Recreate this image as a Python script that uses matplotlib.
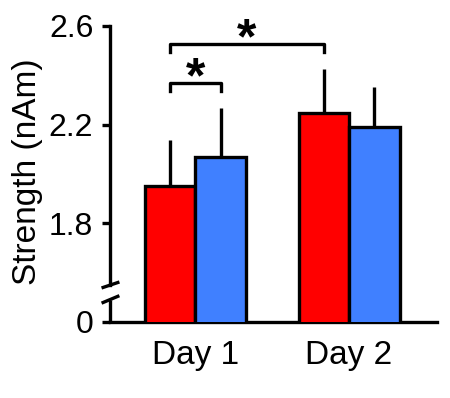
import numpy as np
import matplotlib.pyplot as plt
from matplotlib.transforms import blended_transform_factory

plt.rcParams['font.family'] = ['Liberation Sans', 'DejaVu Sans']

# data (nAm)
days = ['Day 1', 'Day 2']
red_vals = [1.95, 2.247]
blue_vals = [2.068, 2.19]
red_err = [0.187, 0.178]
blue_err = [0.199, 0.162]
tick_vals = [1.4, 1.8, 2.2, 2.6]
tick_labels = ['0', '1.8', '2.2', '2.6']

red = '#FF0000'
blue = '#4080FF'
lw = 2.4

fig = plt.figure(figsize=(4.5, 3.98), dpi=100)
ax = fig.add_axes([0.2444, 0.191, 0.7267, 0.7437])

x = np.arange(len(days))
w = 0.329
xr = x - w / 2
xb = x + w / 2

ax.bar(xr, red_vals, w, color=red, edgecolor='black', linewidth=lw, zorder=3)
ax.bar(xb, blue_vals, w, color=blue, edgecolor='black', linewidth=lw, zorder=3)
ax.errorbar(xr, red_vals, yerr=[np.zeros(2), red_err], fmt='none',
            ecolor='black', elinewidth=lw, capsize=0, zorder=2)
ax.errorbar(xb, blue_vals, yerr=[np.zeros(2), blue_err], fmt='none',
            ecolor='black', elinewidth=lw, capsize=0, zorder=2)

ax.set_xlim(-0.557, 1.573)
ax.set_ylim(1.4, 2.6)
ax.set_yticks(tick_vals)
ax.set_yticklabels(tick_labels)
ax.set_xticks(x)
ax.set_xticklabels(days)
ax.tick_params(axis='y', length=6, width=lw, pad=6, labelsize=23)
ax.tick_params(axis='x', length=0, pad=13, labelsize=24)

ax.set_ylabel('Strength (nAm)', fontsize=24)
ax.yaxis.set_label_coords(-0.205, 0.507)

for s in ['top', 'right']:
    ax.spines[s].set_visible(False)
ax.spines['bottom'].set_linewidth(lw)
ax.spines['left'].set_linewidth(lw)
ax.spines['left'].set_bounds(1.55, 2.6)

# lower part of the broken axis and break marks
tr = blended_transform_factory(ax.transAxes, ax.transData)
ax.plot([0, 0], [1.4, 1.491], color='black', lw=lw, transform=tr,
        clip_on=False, solid_capstyle='butt')
ax.plot([-0.021, 0.024], [1.54, 1.56], color='black', lw=lw, transform=tr, clip_on=False)
ax.plot([-0.021, 0.024], [1.479, 1.504], color='black', lw=lw, transform=tr, clip_on=False)

# significance brackets
def bracket(x0, x1, top):
    y = top + 0.1
    ax.plot([x0, x0, x1, x1], [y - 0.032, y, y, y - 0.032], color='black',
            lw=lw, clip_on=False)
    ax.text((x0 + x1) / 2, y - 0.035, '*', ha='center', va='baseline',
            fontsize=36, fontweight='bold')

bracket(xr[0], xb[0], max(red_vals[0] + red_err[0], blue_vals[0] + blue_err[0]))
bracket(xr[0], xr[1], red_vals[1] + red_err[1])

fig.savefig('out.png', dpi=100)
